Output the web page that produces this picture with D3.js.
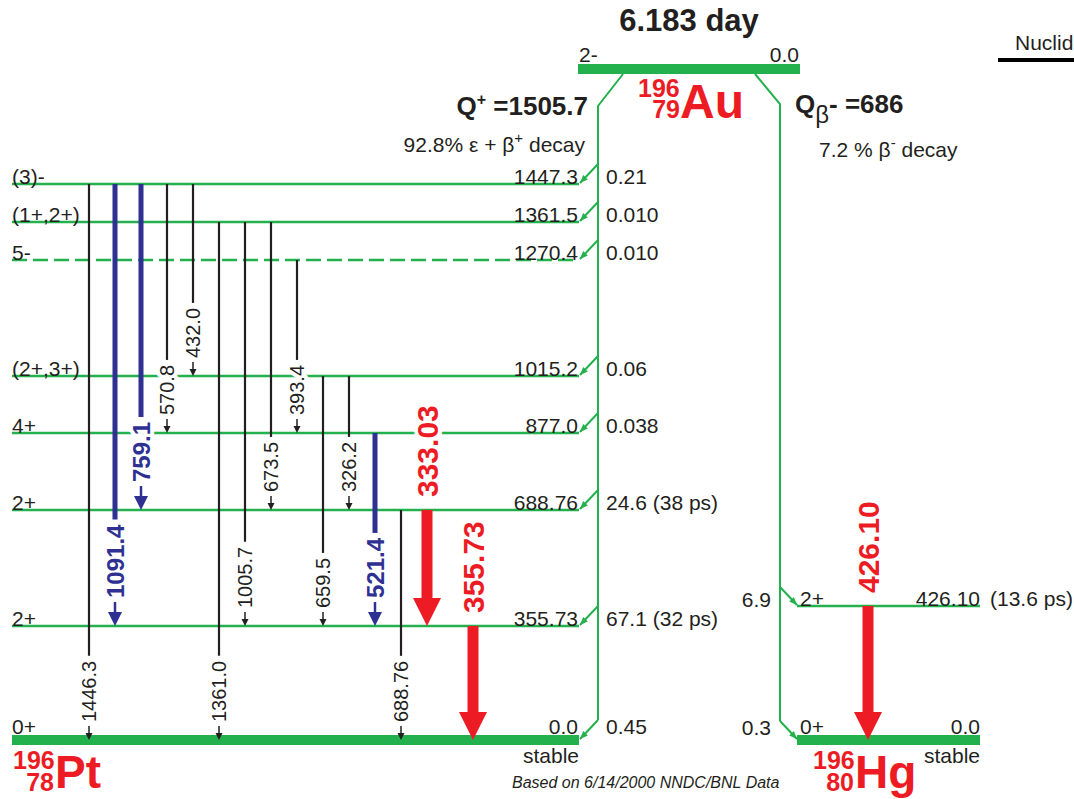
<!DOCTYPE html>
<html>
<head>
<meta charset="utf-8">
<script src="https://d3js.org/d3.v7.min.js"></script>
<style>
  body { margin: 0; background: #fff; }
  svg text { font-family: "Liberation Sans", Arial, sans-serif; fill: #231f20; }
  .lvl { font-size: 21px; }
  .head { font-size: 26px; font-weight: bold; }
  .nuc { font-weight: bold; fill: #ed1c24; }
  .g-weak { font-size: 20px; }
  .g-medium { font-size: 24px; font-weight: bold; fill: #2e3192; }
  .g-strong { font-size: 30px; font-weight: bold; fill: #ed1c24; }
  .halo { paint-order: stroke; stroke: #fff; stroke-width: 8px; stroke-linejoin: round; }
</style>
</head>
<body>
<svg width="1074" height="799"></svg>
<script>
// levels of 196Pt (keV)
const ptEnergies = [1447.3, 1361.5, 1270.4, 1015.2, 877.0, 688.76, 355.73, 0.0];
const ptLabels = ["1447.3", "1361.5", "1270.4", "1015.2", "877.0", "688.76", "355.73", "0.0"];
const ptSpins = ["(3)-", "(1+,2+)", "5-", "(2+,3+)", "4+", "2+", "2+", "0+"];
const ptFeeds = ["0.21", "0.010", "0.010", "0.06", "0.038", "24.6 (38 ps)", "67.1 (32 ps)", "0.45"];
const ptTentative = [false, false, true, false, false, false, false, false];

// gamma rays in 196Pt, left to right
const gammaLabels = ["1446.3", "1091.4", "759.1", "570.8", "432.0", "1361.0", "1005.7", "673.5",
                     "393.4", "659.5", "326.2", "521.4", "688.76", "333.03", "355.73"];
const gammaFrom = [1447.3, 1447.3, 1447.3, 1447.3, 1447.3, 1361.5, 1361.5, 1361.5,
                   1270.4, 1015.2, 1015.2, 877.0, 688.76, 688.76, 355.73];
const gammaTo = [0.0, 355.73, 688.76, 877.0, 1015.2, 0.0, 355.73, 688.76,
                 877.0, 355.73, 688.76, 355.73, 0.0, 355.73, 0.0];
const gammaKind = ["weak", "medium", "medium", "weak", "weak", "weak", "weak", "weak",
                   "weak", "weak", "weak", "medium", "weak", "strong", "strong"];

// levels of 196Hg
const hgEnergies = [426.10, 0.0];
const hgLabels = ["426.10", "0.0"];
const hgSpins = ["2+", "0+"];
const hgFeeds = ["6.9", "0.3"];
const hgHalfLives = ["(13.6 ps)", ""];
const hgGammaLabels = ["426.10"];
const hgGammaFrom = [426.10];
const hgGammaTo = [0.0];

const green = "#22b14c", blue = "#2e3192", red = "#ed1c24", ink = "#231f20";

const svg = d3.select("svg");

// level schemes are not drawn to scale: piecewise scale between levels
const ptY = d3.scaleLinear()
  .domain([0, 355.73, 688.76, 877.0, 1015.2, 1270.4, 1361.5, 1447.3])
  .range([740, 626, 510, 433, 376, 260, 222, 184]);
const hgY = d3.scaleLinear().domain([0, 426.10]).range([740, 606]);
const colX = d3.scaleLinear().domain([0, 13, 14]).range([89, 427, 473]);

const ptLeft = 12, ptRight = 579, hgLeft = 797, hgRight = 980;

svg.append("defs").append("marker")
    .attr("id", "gArrow")
    .attr("markerUnits", "userSpaceOnUse")
    .attr("viewBox", "0 0 10 10")
    .attr("refX", 10).attr("refY", 5)
    .attr("markerWidth", 8).attr("markerHeight", 8)
    .attr("orient", "auto")
  .append("path")
    .attr("d", "M0,1 L10,5 L0,9 z")
    .attr("fill", green);

// ---- parent 196Au
svg.append("text").attr("class", "head")
    .attr("x", 689).attr("y", 31).attr("text-anchor", "middle")
    .style("font-size", "31px").text("6.183 day");
svg.append("line")
    .attr("x1", 578).attr("x2", 800).attr("y1", 69).attr("y2", 69)
    .attr("stroke", green).attr("stroke-width", 10);
svg.append("text").attr("class", "lvl").attr("x", 579).attr("y", 62).text("2-");
svg.append("text").attr("class", "lvl").attr("x", 799).attr("y", 62)
    .attr("text-anchor", "end").text("0.0");

const au = svg.append("g");
au.append("text").attr("class", "nuc").attr("x", 638).attr("y", 97)
    .style("font-size", "25px").text("196");
au.append("text").attr("class", "nuc").attr("x", 680).attr("y", 118)
    .attr("text-anchor", "end").style("font-size", "25px").text("79");
au.append("text").attr("class", "nuc").attr("x", 680).attr("y", 118)
    .style("font-size", "48px").text("Au");

// Q values
const qp = svg.append("text").attr("class", "head")
    .attr("x", 588).attr("y", 115).attr("text-anchor", "end");
qp.append("tspan").text("Q");
qp.append("tspan").attr("dy", -10).style("font-size", "16px").text("+");
qp.append("tspan").attr("dy", 10).text(" =1505.7");

const ec = svg.append("text").attr("class", "lvl")
    .attr("x", 585).attr("y", 152).attr("text-anchor", "end");
ec.append("tspan").text("92.8% \u03b5 + \u03b2");
ec.append("tspan").attr("dy", -9).style("font-size", "15px").text("+");
ec.append("tspan").attr("dy", 9).text(" decay");

const qm = svg.append("text").attr("class", "head").attr("x", 795).attr("y", 113);
qm.append("tspan").text("Q");
qm.append("tspan").attr("dy", 10).style("font-weight", "normal").style("font-size", "24px").text("\u03b2");
qm.append("tspan").attr("dy", -10).text("- =686");

const bm = svg.append("text").attr("class", "lvl").attr("x", 819).attr("y", 157);
bm.append("tspan").text("7.2 % \u03b2");
bm.append("tspan").attr("dy", -9).style("font-size", "15px").text("-");
bm.append("tspan").attr("dy", 9).text(" decay");

// ---- feeding lines
svg.append("path")
    .attr("d", `M623,74 L598,106 L598,${ptY(0) - 20}`)
    .attr("fill", "none").attr("stroke", green).attr("stroke-width", 2);
svg.append("path")
    .attr("d", `M755,74 L780,104 L780,${hgY(0) - 19}`)
    .attr("fill", "none").attr("stroke", green).attr("stroke-width", 2);

// ---- 196Pt levels
const ptG = svg.append("g");
ptEnergies.forEach((e, i) => {
  const y = ptY(e);
  const ground = e === 0;
  ptG.append("line")
      .attr("x1", ptLeft).attr("x2", ptRight).attr("y1", y).attr("y2", y)
      .attr("stroke", green).attr("stroke-width", ground ? 10 : 2.6)
      .attr("stroke-dasharray", ptTentative[i] ? "15,6" : null);
  const ty = ground ? y - 6 : y;
  ptG.append("text").attr("class", "lvl").attr("x", ptLeft).attr("y", ty).text(ptSpins[i]);
  ptG.append("text").attr("class", "lvl").attr("x", ptRight - 1).attr("y", ty)
      .attr("text-anchor", "end").text(ptLabels[i]);
  ptG.append("text").attr("class", "lvl").attr("x", 606).attr("y", ty).text(ptFeeds[i]);
  ptG.append("line")
      .attr("x1", 598).attr("y1", y - 20).attr("x2", 580).attr("y2", y - 1)
      .attr("stroke", green).attr("stroke-width", 2).attr("marker-end", "url(#gArrow)");
});

// ---- 196Hg levels
const hgG = svg.append("g");
hgEnergies.forEach((e, i) => {
  const y = hgY(e);
  const ground = e === 0;
  hgG.append("line")
      .attr("x1", hgLeft).attr("x2", hgRight).attr("y1", y).attr("y2", y)
      .attr("stroke", green).attr("stroke-width", ground ? 10 : 2.6);
  const ty = ground ? y - 6 : y;
  hgG.append("text").attr("class", "lvl").attr("x", 800).attr("y", ty).text(hgSpins[i]);
  hgG.append("text").attr("class", "lvl").attr("x", hgRight).attr("y", ty)
      .attr("text-anchor", "end").text(hgLabels[i]);
  hgG.append("text").attr("class", "lvl").attr("x", 990).attr("y", ty).text(hgHalfLives[i]);
  hgG.append("text").attr("class", "lvl").attr("x", 771).attr("y", ty + 1)
      .attr("text-anchor", "end").text(hgFeeds[i]);
  hgG.append("line")
      .attr("x1", 780).attr("y1", y - 19).attr("x2", 797).attr("y2", y - 1)
      .attr("stroke", green).attr("stroke-width", 2).attr("marker-end", "url(#gArrow)");
});

// ---- gamma rays
const gG = svg.append("g");

function vLabel(x, yBottom, text, kind) {
  const t = gG.append("text")
      .attr("class", `g-${kind} halo`)
      .attr("transform", `translate(${x},${yBottom}) rotate(-90)`)
      .attr("dy", "0.36em")
      .text(text);
  return t.node().getComputedTextLength();
}

function gamma(x, y1, y2, text, kind) {
  if (kind === "strong") {
    const head = 28;
    gG.append("rect")
        .attr("x", x - 5.5).attr("y", y1).attr("width", 11).attr("height", y2 - head - y1 + 1)
        .attr("fill", red);
    gG.append("path")
        .attr("d", `M${x - 14},${y2 - head} L${x + 14},${y2 - head} L${x},${y2} z`)
        .attr("fill", red);
    vLabel(x, y1 - 13, text, kind);
    return;
  }
  const color = kind === "medium" ? blue : ink;
  const lift = kind === "medium" ? 28 : 18;
  const yb = y2 - lift;
  const len = vLabel(x, yb, text, kind);
  gG.append("line")
      .attr("x1", x).attr("x2", x).attr("y1", y1).attr("y2", yb - len - 5)
      .attr("stroke", color).attr("stroke-width", kind === "medium" ? 5 : 2.2);
  const hl = kind === "medium" ? 14 : 7, hw = kind === "medium" ? 7 : 3.5;
  gG.append("line")
      .attr("x1", x).attr("x2", x).attr("y1", yb + 4).attr("y2", y2 - hl + 1)
      .attr("stroke", color).attr("stroke-width", kind === "medium" ? 2.5 : 1.5);
  gG.append("path")
      .attr("d", `M${x - hw},${y2 - hl} L${x + hw},${y2 - hl} L${x},${y2} z`)
      .attr("fill", color);
}

gammaLabels.forEach((lab, i) => {
  gamma(colX(i), ptY(gammaFrom[i]), ptY(gammaTo[i]), lab, gammaKind[i]);
});
hgGammaLabels.forEach((lab, i) => {
  gamma(868, hgY(hgGammaFrom[i]), hgY(hgGammaTo[i]), lab, "strong");
});

// ---- daughter labels and footer
function nuclide(x, a, z, sym) {
  svg.append("text").attr("class", "nuc").attr("x", x).attr("y", 769)
      .style("font-size", "25px").text(a);
  svg.append("text").attr("class", "nuc").attr("x", x + 41).attr("y", 791)
      .attr("text-anchor", "end").style("font-size", "25px").text(z);
  svg.append("text").attr("class", "nuc").attr("x", x + 42).attr("y", 788)
      .style("font-size", "46px").text(sym);
}
nuclide(13, "196", "78", "Pt");
nuclide(813, "196", "80", "Hg");

svg.append("text").attr("class", "lvl").attr("x", ptRight).attr("y", 763)
    .attr("text-anchor", "end").text("stable");
svg.append("text").attr("class", "lvl").attr("x", hgRight).attr("y", 763)
    .attr("text-anchor", "end").text("stable");
svg.append("text").attr("x", 512).attr("y", 788)
    .style("font-size", "16px").style("font-style", "italic")
    .text("Based on 6/14/2000 NNDC/BNL Data");

// legend heading, cut off by the right edge as in the source image
svg.append("text").attr("class", "lvl").attr("x", 1015).attr("y", 50).text("Nuclide");
svg.append("line").attr("x1", 998).attr("x2", 1074).attr("y1", 60).attr("y2", 60)
    .attr("stroke", "#000").attr("stroke-width", 4);
</script>
</body>
</html>
